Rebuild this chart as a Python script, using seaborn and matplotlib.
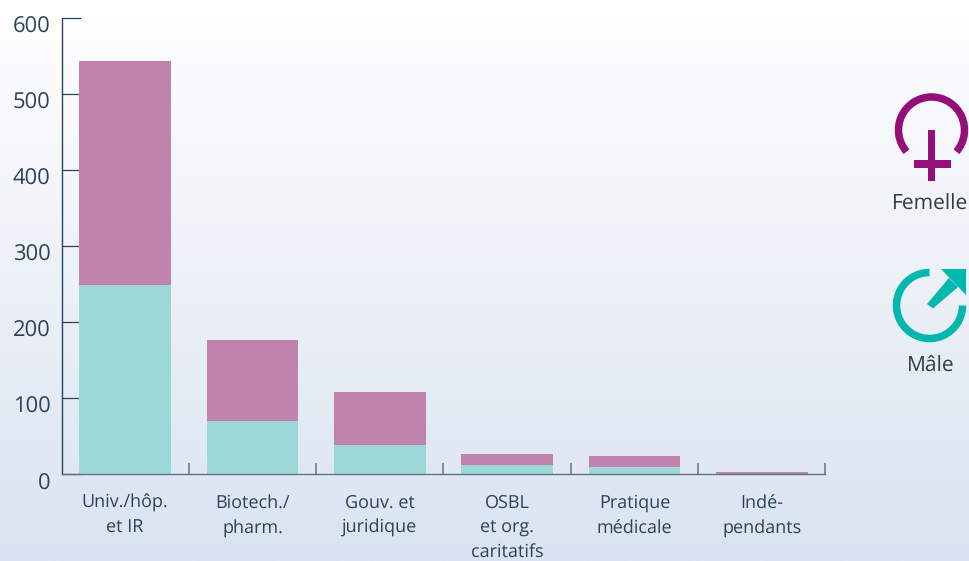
import numpy as np
import pandas as pd
import matplotlib
matplotlib.use('Agg')
import matplotlib.pyplot as plt
from matplotlib.patches import Arc, Polygon, Rectangle
from matplotlib.transforms import ScaledTranslation
import seaborn as sns

categories = ['Univ./hôp.\net IR', 'Biotech./\npharm.', 'Gouv. et\njuridique',
              'OSBL\net org.\ncaritatifs', 'Pratique\nmédicale', 'Indé-\npendants']
male = [248, 70, 38, 12, 9, 0.5]
female = [295, 106, 70, 14, 15, 2]
y_ticks = [0, 100, 200, 300, 400, 500, 600]

TEXT = '#2b4257'
AXIS = '#5f7386'
sns.set_theme(style='white')
plt.rcParams['font.family'] = ['Open Sans', 'DejaVu Sans']
plt.rcParams['text.hinting'] = 'none'
plt.rcParams['text.hinting_factor'] = 1

df = pd.DataFrame({'category': categories, 'male': male, 'female': female})
df['total'] = df.male + df.female

fig = plt.figure(figsize=(9.69, 5.61), dpi=100)

# background gradient, white at the top to pale blue at the bottom
bg = fig.add_axes([0, 0, 1, 1], zorder=0)
bg.imshow(np.linspace(0, 1, 256).reshape(-1, 1), aspect='auto', extent=(0, 969, 561, 0),
          cmap=matplotlib.colors.LinearSegmentedColormap.from_list('bg', ['#ffffff', '#dae3f1']))
bg.axis('off')

W, H = 969, 561
ax = fig.add_axes([61.5 / W, 1 - 474 / H, (825.5 - 61.5) / W, (474 - 17.5) / H], zorder=1)
ax.patch.set_alpha(0)

# stacked bars: total first, male on top of it
sns.barplot(data=df, x='category', y='total', color='#bf83ad', saturation=1, width=0.72,
            linewidth=0, edgecolor='none', ax=ax)
sns.barplot(data=df, x='category', y='male', color='#9cd8d5', saturation=1, width=0.72,
            linewidth=0, edgecolor='none', ax=ax)

ax.set_xlim(-0.5, 5.5)
ax.set_ylim(0, 600)
ax.set_xlabel('')
ax.set_ylabel('')
sns.despine(ax=ax, top=True, right=True)
for s in ['left', 'bottom']:
    ax.spines[s].set_linewidth(1.0)
ax.spines['left'].set_color(TEXT)
ax.spines['bottom'].set_color(AXIS)

ax.set_yticks(y_ticks)
ax.tick_params(axis='y', direction='in', length=13.5, width=0.9, color=TEXT, labelsize=15.5,
               labelcolor=TEXT, pad=8, left=True)
shift = ScaledTranslation(0, -5 / 72, fig.dpi_scale_trans)
for lab in ax.get_yticklabels():
    lab.set_transform(lab.get_transform() + shift)

# category boundaries get the ticks, labels stay centred under the bars
ax.set_xticks(np.arange(len(categories)))
ax.set_xticklabels(categories, fontsize=13.2, color=TEXT, linespacing=1.49, fontstretch='semi-condensed')
ax.tick_params(axis='x', which='major', length=0, pad=14.5)
ax.set_xticks(np.arange(len(categories)) + 0.5, minor=True)
ax.tick_params(axis='x', which='minor', direction='in', length=8, width=1.1, color=AXIS, bottom=True)

# sex symbols on the right, in pixel coordinates
ov = fig.add_axes([0, 0, 1, 1], zorder=2)
ov.set_xlim(0, W)
ov.set_ylim(H, 0)
ov.axis('off')
ov.patch.set_alpha(0)

PURPLE = '#940f78'
TEAL = '#00b8ad'
ov.add_patch(Arc((931.5, 130), 66, 66, theta1=-221, theta2=41, color=PURPLE, lw=5.4))
ov.add_patch(Rectangle((928, 130), 7, 51, color=PURPLE, lw=0))
ov.add_patch(Rectangle((914, 160), 37, 8, color=PURPLE, lw=0))
ov.text(930.5, 204.5, 'Femelle', ha='center', va='center', fontsize=15.4, color='#333b44')

ov.add_patch(Arc((929.5, 305.5), 66, 66, theta1=0, theta2=270, color=TEAL, lw=5.4))
ov.add_patch(Polygon([(941, 269), (966, 269), (966, 295)], color=TEAL, lw=0))
ov.add_patch(Polygon([(927, 304), (933, 308.5), (958, 287), (949, 278)], color=TEAL, lw=0))
ov.text(930.5, 365.5, 'Mâle', ha='center', va='center', fontsize=15.4, color='#333b44')

fig.savefig('out.png', dpi=100)
